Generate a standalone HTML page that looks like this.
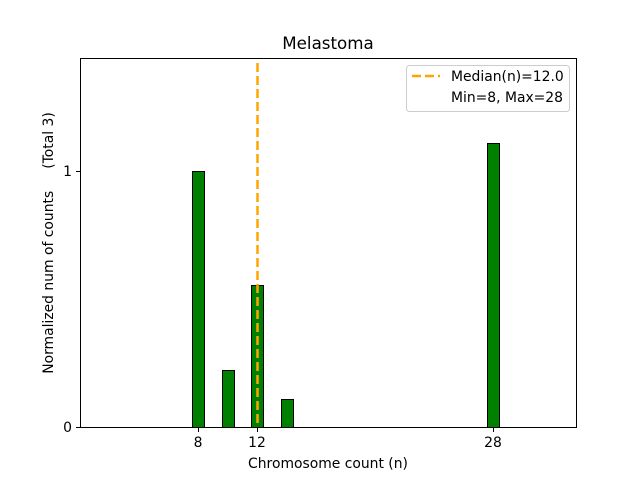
<!DOCTYPE html>
<html><head><style>body{margin:0;background:#fff}svg{display:block}</style></head><body>
<svg width="640" height="480" xmlns="http://www.w3.org/2000/svg" font-family="'DejaVu Sans','Liberation Sans',sans-serif" font-size="13.9">
<rect width="640" height="480" fill="#fff"/>
<g fill="#008000" stroke="#000" stroke-width="1">
<rect x="192.5" y="171.5" width="12" height="256"/>
<rect x="222.5" y="370.5" width="12" height="57"/>
<rect x="251.5" y="285.5" width="12" height="142"/>
<rect x="281.5" y="399.5" width="12" height="28"/>
<rect x="487.5" y="143.5" width="12" height="284"/>
</g>
<line x1="257.5" y1="63" x2="257.5" y2="427" stroke="#ffa500" stroke-width="2.5" stroke-dasharray="9,4"/>
<rect x="80.5" y="58.5" width="496" height="369" fill="none" stroke="#000" stroke-width="1"/>
<g stroke="#000"><line x1="76" y1="427.5" x2="80" y2="427.5"/><line x1="76" y1="171.5" x2="80" y2="171.5"/>
<line x1="198.5" y1="428" x2="198.5" y2="432"/><line x1="257.5" y1="428" x2="257.5" y2="432"/><line x1="493.5" y1="428" x2="493.5" y2="432"/></g>
<g text-anchor="end"><text x="72" y="432">0</text><text x="72" y="176">1</text></g>
<g text-anchor="middle"><text x="198" y="447">8</text><text x="257" y="447">12</text><text x="493" y="447">28</text>
<text x="328" y="468">Chromosome count (n)</text>
<text x="328" y="49" font-size="16.7">Melastoma</text></g>
<text transform="translate(53,243) rotate(-90)" text-anchor="middle" xml:space="preserve" style="white-space:pre">Normalized num of counts     (Total 3)</text>
<rect x="406.5" y="65.5" width="163" height="46" rx="3" fill="#fff" fill-opacity="0.8" stroke="#ccc"/>
<line x1="412" y1="76" x2="440" y2="76" stroke="#ffa500" stroke-width="2.5" stroke-dasharray="9,4"/>
<text x="451" y="81">Median(n)=12.0</text>
<text x="451" y="102">Min=8, Max=28</text>
</svg>
</body></html>
